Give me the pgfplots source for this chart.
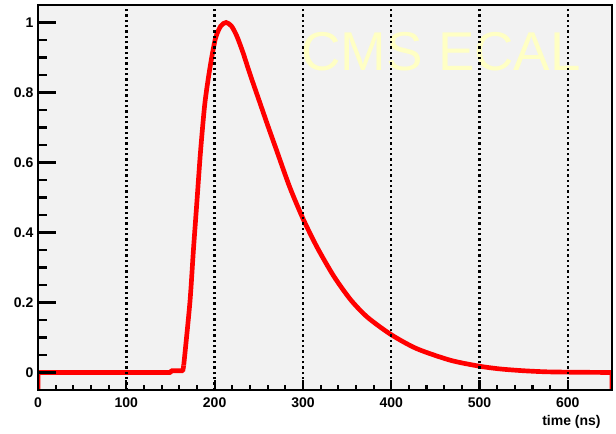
\documentclass[border=0pt]{standalone}
\usepackage{fontspec}
\setmainfont{Liberation Sans}
\usepackage{pgfplots}
\pgfplotsset{compat=1.18}

\definecolor{panel}{HTML}{F2F2F2}
\definecolor{cmsyellow}{HTML}{FFFFC4}

% 1 px of the reference = 0.75pt
\begin{document}
\begin{tikzpicture}
\useasboundingbox (-28.5pt,-32.25pt) rectangle (433.5pt,292.5pt);
\begin{axis}[
    scale only axis,
    width=430.5pt, height=288.75pt,
    xmin=0, xmax=650,
    ymin=-0.05, ymax=1.05,
    axis background/.style={fill=panel},
    axis line style={line width=1.5pt},
    axis on top,
    tick align=inside,
    xtick pos=bottom, ytick pos=left,
    xtick={0,100,...,600},
    ytick={0,0.2,...,1},
    minor x tick num=4,
    minor y tick num=3,
    xtick style={black, line width=1.6pt, /pgfplots/major tick length=7.5pt, /pgfplots/minor tick length=3.75pt},
    ytick style={black, line width=1.6pt, /pgfplots/major tick length=13.3pt, /pgfplots/minor tick length=6.75pt},
    xmajorgrids,
    grid style={black, line width=1.8pt, dash pattern=on 1.8pt off 2.2pt},
    ticklabel style={font=\fontsize{10.5}{12}\selectfont\bfseries},
    /pgf/number format/assume math mode=true,
    xticklabel style={yshift=-2pt},
    xlabel={time (ns)},
    xlabel style={font=\fontsize{10.5}{12}\selectfont\bfseries,
        at={(axis description cs:1,0)}, anchor=east, xshift=-5pt, yshift=-24pt},
]
\node[anchor=base west, inner sep=0pt, text=cmsyellow,
      font=\fontsize{41}{45}\selectfont] at (axis cs:298,0.863) {CMS ECAL};

% baseline and the drops to the frame at both ends
\addplot[red, line width=3.5pt, line join=round] coordinates {
    (0,-0.05) (0,0) (150,0) (151,0.005) (164,0.005) (165,0.02)
};
\addplot[red, line width=3.5pt, line join=round] coordinates {
    (600,0.001) (650,0) (650,-0.05)
};
% pulse
\addplot[red, line width=3.5pt, smooth, tension=0.45] coordinates {
    (165,0.02) (172,0.2) (176,0.35) (180,0.49) (184,0.63)
    (189,0.77) (195,0.875) (201,0.955) (207,0.99) (213,1.0)
    (219,0.99) (225,0.962) (232,0.915) (240,0.853) (250,0.78)
    (260,0.707) (270,0.636) (285,0.53) (300,0.44) (316,0.358)
    (335,0.275) (354,0.208) (373,0.158) (400,0.108) (429,0.068)
    (467,0.035) (500,0.018) (524,0.010) (550,0.005) (575,0.002) (600,0.001)
};
\end{axis}
\end{tikzpicture}
\end{document}
